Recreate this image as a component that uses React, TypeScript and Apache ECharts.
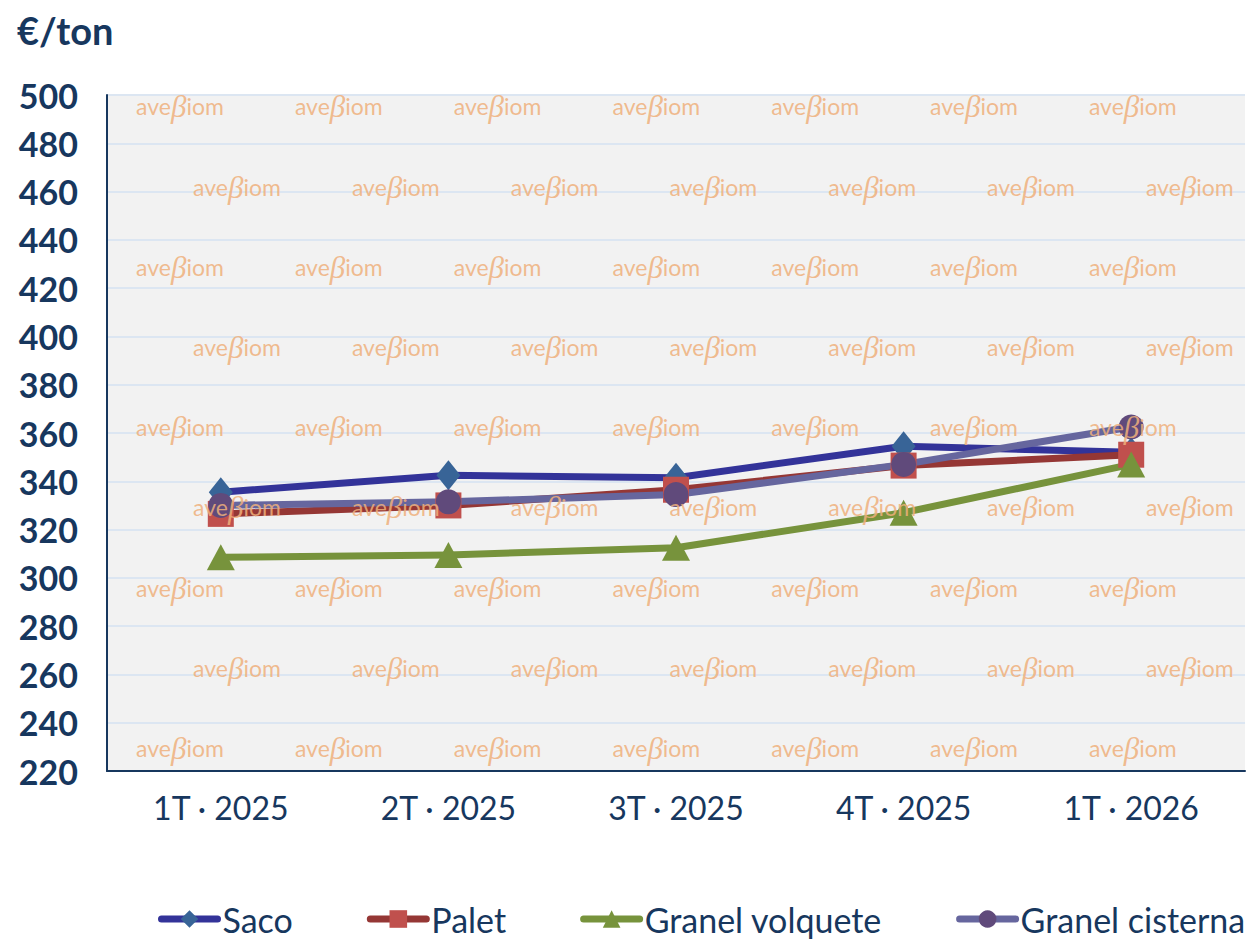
import React, { useEffect, useRef } from "react";
import * as echarts from "echarts";

const categories = ["1T · 2025", "2T · 2025", "3T · 2025", "4T · 2025", "1T · 2026"];
const saco = [335.5, 342.5, 341.5, 354.5, 352];
const palet = [326.5, 330, 336.5, 346.5, 351];
const granelVolquete = [308.5, 309.5, 312.5, 327, 347];
const granelCisterna = [330, 331.5, 334.5, 347, 362.5];
const yTicks = { min: 220, max: 500, interval: 20 };

const NAVY = "#17375e";
const FONT = "Lato, 'Noto Sans', sans-serif";

function watermarks() {
  const rows = [106, 187, 267, 347, 427, 507, 588, 668, 748];
  const out: any[] = [];
  rows.forEach((y, r) => {
    const x0 = r % 2 === 0 ? 180 : 237;
    for (let i = 0; i < 7; i++) {
      const x = x0 + i * 158.8;
      if (x > 1240) continue;
      out.push({
        type: "text",
        x,
        y,
        silent: true,
        z: 100,
        style: {
          text: "{a|ave}{b|β}{a|iom}",
          align: "center",
          verticalAlign: "middle",
          opacity: 0.85,
          rich: {
            a: { fontFamily: FONT, fontSize: 23, fill: "#efb07c" },
            b: { fontFamily: "serif", fontStyle: "italic", fontSize: 31, fill: "#efb07c" },
          },
        },
      });
    }
  });
  return out;
}

export default function App() {
  const ref = useRef<HTMLDivElement>(null);
  useEffect(() => {
    const chart = echarts.init(ref.current!, null, { renderer: "svg" });
    const mk = (name: string, data: number[], line: string, mcolor: string, symbol: string, size: any) => ({
      name,
      type: "line",
      data,
      symbol,
      symbolSize: size,
      lineStyle: { color: line, width: 7, cap: "round", join: "round" },
      itemStyle: { color: mcolor, borderWidth: 0 },
      color: line,
    });
    chart.setOption({
      animation: false,
      backgroundColor: "#ffffff",
      title: {
        text: "€/ton",
        left: 12,
        top: 6,
        textStyle: { fontFamily: FONT, fontSize: 38, fontWeight: "bold", color: NAVY },
      },
      grid: {
        left: 107,
        right: 6,
        top: 95,
        bottom: 170,
        show: true,
        backgroundColor: "#f2f2f2",
        borderWidth: 0,
      },
      legend: {
        left: 158,
        top: 902,
        padding: 0,
        itemWidth: 56,
        itemHeight: 22,
        itemGap: 74,
        lineStyle: { width: 7, cap: "round" },
        textStyle: { fontFamily: FONT, fontSize: 34, color: NAVY },
        data: ["Saco", "Palet", "Granel volquete", "Granel cisterna"],
      },
      xAxis: {
        type: "category",
        data: categories,
        boundaryGap: true,
        axisLine: { lineStyle: { color: NAVY, width: 2 } },
        axisTick: { show: false },
        axisLabel: { fontFamily: FONT, fontSize: 32, color: NAVY, margin: 20 },
        splitLine: { show: false },
      },
      yAxis: {
        type: "value",
        min: yTicks.min,
        max: yTicks.max,
        interval: yTicks.interval,
        axisLine: { show: true, lineStyle: { color: NAVY, width: 2 } },
        axisTick: { show: false },
        axisLabel: { fontFamily: FONT, fontSize: 34, fontWeight: "bold", color: NAVY, margin: 29 },
        splitLine: { lineStyle: { color: "#dce6f2", width: 2 } },
      },
      graphic: watermarks(),
      series: [
        mk("Saco", saco, "#333399", "#386497", "diamond", [24, 30]),
        mk("Palet", palet, "#953735", "#c0504d", "rect", [26, 26]),
        mk("Granel volquete", granelVolquete, "#77933c", "#77933c", "triangle", [28, 26]),
        mk("Granel cisterna", granelCisterna, "#66669e", "#604a7b", "circle", 25),
      ],
    });
    return () => chart.dispose();
  }, []);
  return (
    <div
      ref={ref}
      style={{ position: "fixed", left: 0, top: 0, width: 1251, height: 941 }}
    />
  );
}
